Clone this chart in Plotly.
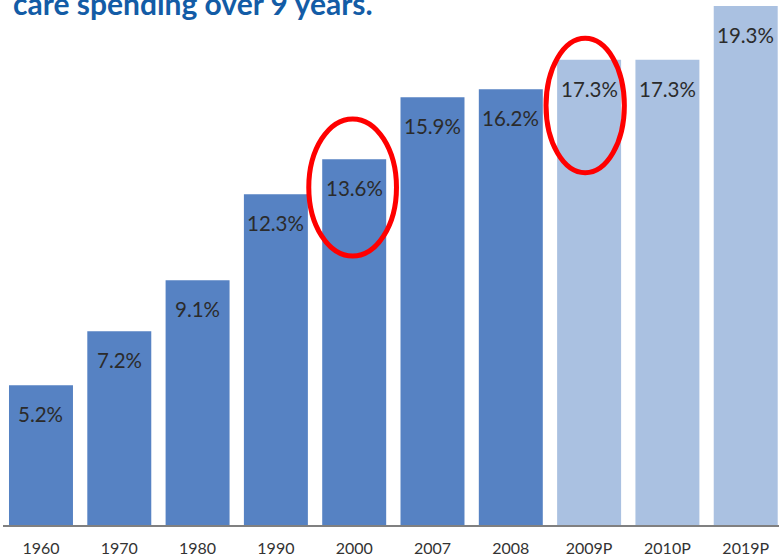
import plotly.graph_objects as go

categories = ["1960", "1970", "1980", "1990", "2000", "2007", "2008", "2009P", "2010P", "2019P"]
values = [5.2, 7.2, 9.1, 12.3, 13.6, 15.9, 16.2, 17.3, 17.3, 19.3]
labels = ["5.2%", "7.2%", "9.1%", "12.3%", "13.6%", "15.9%", "16.2%", "17.3%", "17.3%", "19.3%"]
projected = [False, False, False, False, False, False, False, True, True, True]
title_text = "care spending over 9 years."
highlight = [("2000", 10.0, 15.1), ("2009P", 13.1, 18.1)]

DARK = "#5682C3"
LIGHT = "#AAC1E1"
FONT = "Lato, Open Sans, sans-serif"

colors = [LIGHT if p else DARK for p in projected]

fig = go.Figure(go.Bar(x=categories, y=values, marker=dict(color=colors, line=dict(width=0)),
                       hoverinfo="skip"))
fig.update_xaxes(type="category")

annotations = []
for i, (v, t) in enumerate(zip(values, labels)):
    annotations.append(dict(x=i, y=v, xref="x", yref="y", text=t, showarrow=False,
                            yanchor="top", yshift=-15,
                            font=dict(family=FONT, size=20.5, color="#2b2b2b")))
annotations.append(dict(x=0, y=1, xref="paper", yref="paper", text="<b>" + title_text + "</b>",
                        showarrow=False, xanchor="left", yanchor="top", xshift=8, yshift=17,
                        font=dict(family=FONT, size=30, color="#135CA6")))

shapes = []
for cat, y0, y1 in highlight:
    i = categories.index(cat)
    shapes.append(dict(type="circle", xref="x", yref="y",
                       x0=i - 0.58 if cat == "2000" else i - 0.55,
                       x1=i + 0.54 if cat == "2000" else i + 0.45,
                       y0=y0, y1=y1, line=dict(color="#FF0000", width=5)))

fig.update_layout(
    width=779, height=558,
    margin=dict(l=3, r=0, t=0, b=33),
    paper_bgcolor="white", plot_bgcolor="white",
    bargap=0.183,
    showlegend=False,
    annotations=annotations,
    shapes=shapes,
    xaxis=dict(range=[-0.485, 9.425], showline=True, linecolor="#808080", linewidth=1.5,
               showgrid=False, zeroline=False, ticks="",
               tickfont=dict(family=FONT, size=16, color="#333333"), ticklabelstandoff=8),
    yaxis=dict(range=[0, 19.52], visible=False, showgrid=False, zeroline=False),
)

fig.write_html("out.html")
